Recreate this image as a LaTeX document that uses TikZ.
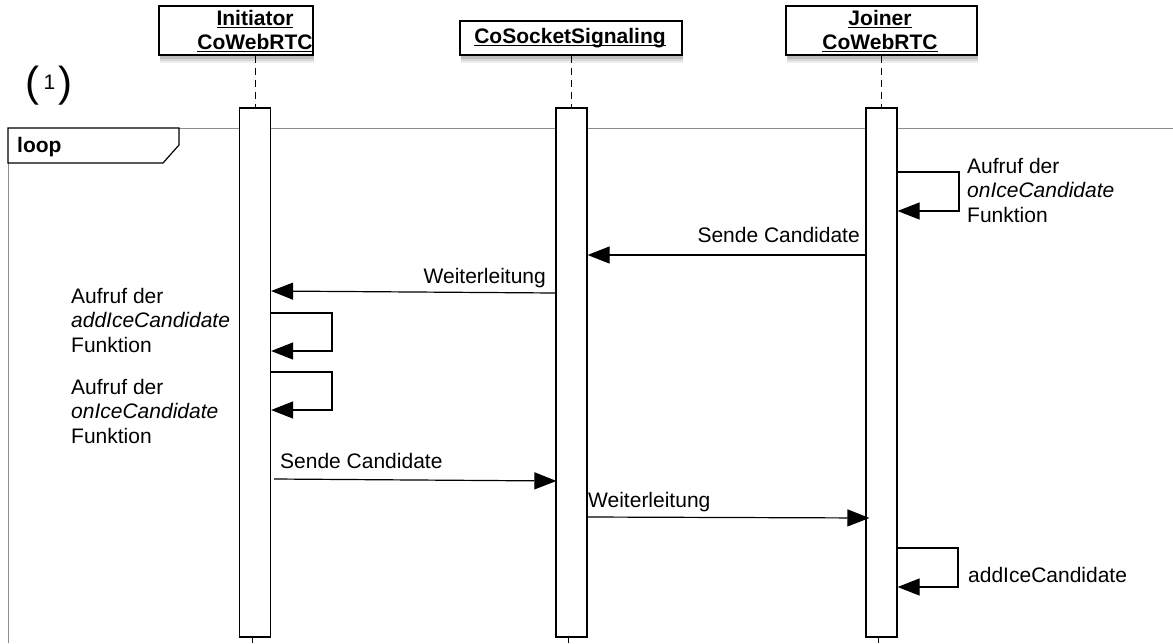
\documentclass[tikz,border=0pt]{standalone}
\usepackage{fontspec}
\setmainfont{Liberation Sans}
\usetikzlibrary{arrows.meta,shadows}

% underline set at a fixed depth below the baseline
\newcommand\hdul[1]{\setbox0=\hbox{#1}\rlap{\vrule height -2pt depth 3.4pt width \wd0}\box0}

\tikzset{
  txt/.style={font=\fontsize{21}{24.5}\selectfont, inner sep=0pt},
  headtxt/.style={txt, font=\fontsize{21}{24}\selectfont\bfseries, align=center},
  head/.style={draw, fill=white, line width=1.2pt, inner sep=0pt,
    drop shadow={shadow xshift=1pt, shadow yshift=-8pt, opacity=.14},
    drop shadow={shadow xshift=1pt, shadow yshift=-6pt, opacity=.2},
    drop shadow={shadow xshift=1pt, shadow yshift=-4pt, opacity=.3}},
  bar/.style={draw, fill=white, line width=1.2pt, inner sep=0pt,
    minimum width=31pt, minimum height=529pt},
  life/.style={line width=1pt, dash pattern=on 7pt off 5pt},
  msg/.style={line width=1.2pt, -{Triangle[length=22pt,width=17pt]}},
  framecol/.style={draw=black!45, line width=1pt},
}

\begin{document}
\begin{tikzpicture}[x=1pt,y=-1pt]
\useasboundingbox (0,0) rectangle (1173,643);

% combined fragment frame
\coordinate (fbl) at (8,643);
\coordinate (ftl) at (8,128);
\coordinate (ftr) at (1173,128);
\draw[framecol] (fbl) -- (ftl) -- (ftr);

% lifeline heads (multi-line nodes are placed by the baseline of their last line)
\node[head, minimum width=154pt, minimum height=49pt] (ihead) at (236,30.5) {};
\node[headtxt, anchor=base] (ilab) at (255,49) {\hdul{Initiator}\\\hdul{CoWebRTC}};
\node[head, minimum width=222pt, minimum height=34pt] (shead) at (571,38) {};
\node[headtxt, anchor=base] (slab) at (570,43) {\hdul{CoSocketSignaling}};
\node[head, minimum width=191pt, minimum height=49pt] (jhead) at (881.5,30.5) {};
\node[headtxt, anchor=base] (jlab) at (880,49) {\hdul{Joiner}\\\hdul{CoWebRTC}};

% activation bars
\node[bar] (ib) at (255,372.5) {};
\node[bar] (sb) at (571.5,372.5) {};
\node[bar] (jb) at (881.5,372.5) {};

% lifelines
\draw[life] (ihead.south -| ib.north) -- (ib.north);
\draw[life] (shead.south -| sb.north) -- (sb.north);
\draw[life] (jhead.south -| jb.north) -- (jb.north);
\coordinate (iend) at (252,643);
\coordinate (send) at (568.5,643);
\coordinate (jend) at (878.5,643);
\draw[line width=1pt] (ib.south -| iend) -- (iend);
\draw[line width=1pt] (sb.south -| send) -- (send);
\draw[line width=1pt] (jb.south -| jend) -- (jend);

% loop label
\node[inner sep=0pt, minimum width=0pt] (looptag) at (8,128) {};
\draw[line width=1.2pt, fill=white] (looptag.center) -- ++(171,0) -- ++(0,17) -- ++(-16,18) -- ++(-155,0) -- cycle;
\node[txt, font=\fontsize{21}{24}\selectfont\bfseries, anchor=base west] (looplab) at (17,152) {loop};

% sequence label
\node[inner sep=0pt, anchor=base west, font=\fontsize{42}{46}\selectfont] (seqno) at (25,96)
  {(\kern4.5pt\raisebox{7pt}{\fontsize{21}{24}\selectfont 1}\kern3pt)};

% Joiner: onIceCandidate self call
\draw[msg] (jb.east |- 0,172) -- (959,172) -- (959,211) -- (jb.east |- 0,211);
\node[txt, align=left, anchor=base west] (jcall1) at (967,222)
  {Aufruf der\\\textit{onIceCandidate}\\Funktion};

% Joiner -> Signaling
\draw[msg] (jb.west |- 0,255) -- (sb.east |- 0,255);
\node[txt, anchor=base east] (m2) at (860,242) {Sende Candidate};

% Signaling -> Initiator
\draw[msg] (sb.west |- 0,293) -- (ib.east |- 0,291);
\node[txt, anchor=base east] (m3) at (546,283) {Weiterleitung};

% Initiator: addIceCandidate self call
\draw[msg] (ib.east |- 0,313) -- (332,313) -- (332,351) -- (ib.east |- 0,351);
\node[txt, align=left, anchor=base west] (icall1) at (71,352)
  {Aufruf der\\\textit{addIceCandidate}\\Funktion};

% Initiator: onIceCandidate self call
\draw[msg] (ib.east |- 0,372) -- (332,372) -- (332,410) -- (ib.east |- 0,410);
\node[txt, align=left, anchor=base west] (icall2) at (71,443)
  {Aufruf der\\\textit{onIceCandidate}\\Funktion};

% Initiator -> Signaling
\draw[msg] ([xshift=3pt]ib.east |- 0,479) -- ([xshift=1pt]sb.west |- 0,481);
\node[txt, anchor=base west] (m6) at (280,468) {Sende Candidate};

% Signaling -> Joiner
\draw[msg] (sb.east |- 0,517) -- ([xshift=4pt]jb.west |- 0,518);
\node[txt, anchor=base west] (m7) at (588,507) {Weiterleitung};

% Joiner: addIceCandidate self call
\draw[msg] (jb.east |- 0,548) -- (958,548) -- (958,587) -- (jb.east |- 0,587);
\node[txt, anchor=base west] (jcall2) at (968,582) {addIceCandidate};
\end{tikzpicture}
\end{document}
